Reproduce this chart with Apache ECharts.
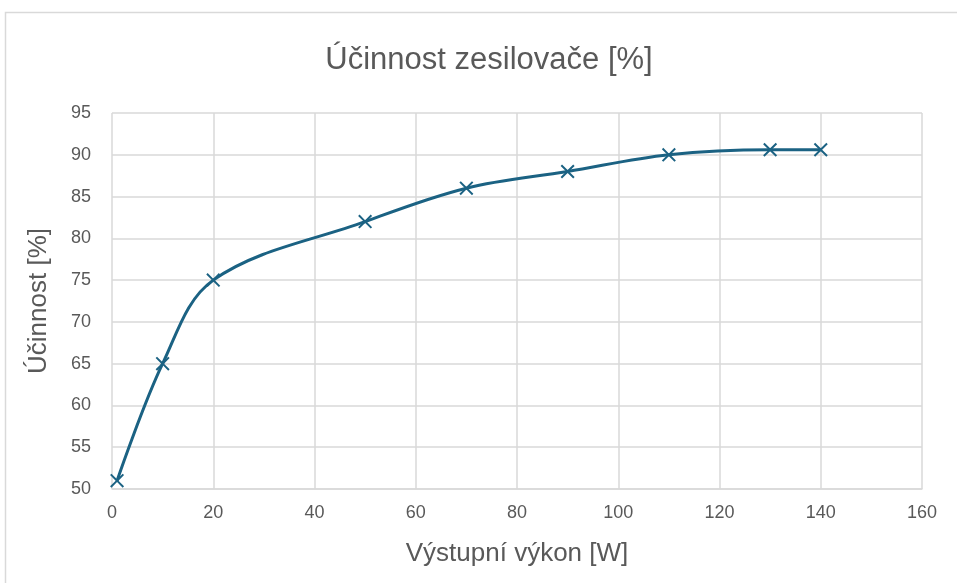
<!DOCTYPE html>
<html>
<head>
<meta charset="utf-8">
<script src="https://cdn.jsdelivr.net/npm/echarts@6/dist/echarts.min.js"></script>
<style>
  html, body { margin: 0; padding: 0; background: #fff; }
  #chart { width: 957px; height: 583px; }
</style>
</head>
<body>
<div id="chart"></div>
<script>
// vstupní data
const power = [1, 10, 20, 50, 70, 90, 110, 130, 140]
const efficiency = [51, 65, 75, 82, 86, 88, 90, 90.6, 90.6]
const xTicks = [0, 20, 40, 60, 80, 100, 120, 140, 160]
const yTicks = [50, 55, 60, 65, 70, 75, 80, 85, 90, 95]

const font = '"Liberation Sans", sans-serif'
const textColor = '#595959'
const lineColor = '#1b6283'
const crossPath = 'path://M0,1L1,0L5,4L9,0L10,1L6,5L10,9L9,10L5,6L1,10L0,9L4,5Z'

const chart = echarts.init(document.getElementById('chart'))

const option = {
  animation: false,
  graphic: [
    {
      type: 'rect',
      shape: { x: 5.5, y: 12.5, width: 1000, height: 1000 },
      style: { fill: 'none', stroke: '#d9d9d9', lineWidth: 1.5 },
      silent: true
    },
    {
      type: 'text',
      x: 489,
      y: 60,
      style: {
        text: 'Účinnost zesilovače [%]',
        fill: textColor,
        font: '31px ' + font,
        align: 'center',
        verticalAlign: 'middle'
      }
    }
  ],
  grid: { left: 112, right: 35, top: 113, bottom: 94 },
  xAxis: {
    type: 'value',
    min: xTicks[0],
    max: xTicks[xTicks.length - 1],
    interval: 20,
    name: 'Výstupní výkon [W]',
    nameLocation: 'middle',
    nameGap: 52,
    nameTextStyle: { color: textColor, fontSize: 26, fontFamily: font },
    axisLine: { show: true, lineStyle: { color: '#d9d9d9', width: 1.5 } },
    axisTick: { show: false },
    axisLabel: { color: textColor, fontSize: 18, fontFamily: font, margin: 15 },
    splitLine: { show: true, lineStyle: { color: '#d9d9d9', width: 1.5 } }
  },
  yAxis: {
    type: 'value',
    min: yTicks[0],
    max: yTicks[yTicks.length - 1],
    interval: 5,
    name: 'Účinnost [%]',
    nameLocation: 'middle',
    nameGap: 60,
    nameTextStyle: { color: textColor, fontSize: 26, fontFamily: font },
    axisLine: { show: false },
    axisTick: { show: false },
    axisLabel: { color: textColor, fontSize: 18, fontFamily: font, margin: 21 },
    splitLine: { show: true, lineStyle: { color: '#d9d9d9', width: 1.5 } }
  },
  series: [{
    type: 'line',
    data: power.map((p, i) => [p, efficiency[i]]),
    smooth: 0.35,
    lineStyle: { color: lineColor, width: 3 },
    itemStyle: { color: lineColor },
    symbol: crossPath,
    symbolSize: 14,
    showAllSymbol: true
  }]
}

chart.setOption(option)
</script>
</body>
</html>
